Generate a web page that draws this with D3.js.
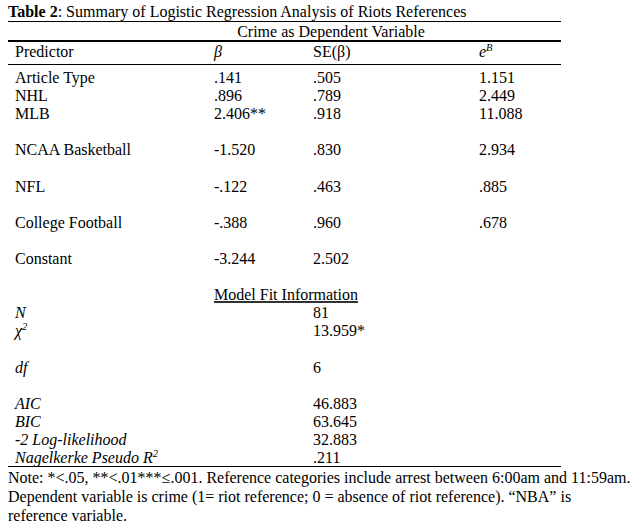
<!DOCTYPE html>
<html>
<head>
<meta charset="utf-8">
<script src="https://cdn.jsdelivr.net/npm/d3@7"></script>
<style>
  html, body { margin: 0; padding: 0; background: #fff; }
  svg text { font-family: "Liberation Serif", "Times New Roman", serif; font-size: 16px; fill: #000; }
</style>
</head>
<body>
<div id="table-container"></div>
<script>
const predictors = ["Article Type", "NHL", "MLB", "NCAA Basketball", "NFL", "College Football", "Constant"]
const betas = [".141", ".896", "2.406**", "-1.520", "-.122", "-.388", "-3.244"]
const ses = [".505", ".789", ".918", ".830", ".463", ".960", "2.502"]
const expBs = ["1.151", "2.449", "11.088", "2.934", ".885", ".678", ""]

const fitLabels = ["N", "χ2", "df", "AIC", "BIC", "-2 Log-likelihood", "Nagelkerke Pseudo R2"]
const fitValues = ["81", "13.959*", "6", "46.883", "63.645", "32.883", ".211"]

const columnHeaders = ["Predictor", "β", "SE(β)", "eB"]
const noteLines = [
  "Note: *<.05, **<.01***≤.001. Reference categories include arrest between 6:00am and 11:59am.",
  "Dependent variable is crime (1= riot reference; 0 = absence of riot reference). \u201cNBA\u201d is",
  "reference variable."
]

const width = 644
const height = 532

const svg = d3.select("#table-container")
    .append("svg")
    .attr("width", width)
    .attr("height", height)

// columns: predictor, beta, se, exp(b)
const x = d3.scaleOrdinal()
    .domain(["label", "beta", "se", "exp"])
    .range([15, 214, 313, 479])

// one body line is ~18px; blank lines sit between the lower predictors
const line = d3.scaleLinear().domain([0, 1]).range([83, 101.1])

const predictorLine = i => i < 3 ? i : 2 + (i - 2) * 2
const fitLine = [13, 14, 16, 18, 19, 20, 21]

const rule = (y, w) => svg.append("line")
    .attr("x1", 8).attr("x2", 561)
    .attr("y1", y).attr("y2", y)
    .attr("stroke", "#000")
    .attr("stroke-width", w)

// title
const title = svg.append("text").attr("x", 8).attr("y", 17)
title.append("tspan").attr("font-weight", "bold").text("Table 2")
title.append("tspan").text(": Summary of Logistic Regression Analysis of Riots References")
rule(21.5, 1)

svg.append("text")
    .attr("x", 331).attr("y", 37)
    .attr("text-anchor", "middle")
    .text("Crime as Dependent Variable")
rule(41, 2)

// header row
const headerKeys = ["label", "beta", "se", "exp"]
columnHeaders.forEach((h, i) => {
  const t = svg.append("text").attr("x", x(headerKeys[i])).attr("y", 57)
  if (h === "β") {
    t.attr("font-style", "italic").text("β")
  } else if (h === "eB") {
    t.append("tspan").attr("font-style", "italic").text("e")
    t.append("tspan").attr("font-style", "italic").attr("font-size", "10.5px").attr("dy", -6).text("B")
  } else {
    t.text(h)
  }
})
rule(64.5, 1)

// predictor rows
const body = svg.append("g")
predictors.forEach((p, i) => {
  const y = line(predictorLine(i))
  const cells = [["label", p], ["beta", betas[i]], ["se", ses[i]], ["exp", expBs[i]]]
  cells.forEach(([k, v]) => {
    body.append("text").attr("x", x(k)).attr("y", y).text(v)
  })
})

// model fit block
svg.append("text")
    .attr("x", x("beta")).attr("y", line(12))
    .attr("text-decoration", "underline")
    .text("Model Fit Information")

fitLabels.forEach((lab, i) => {
  const y = line(fitLine[i])
  const t = svg.append("text").attr("x", x("label")).attr("y", y).attr("font-style", "italic")
  const sup = lab.match(/^(.*)2$/)
  if (sup) {
    t.append("tspan").text(sup[1])
    t.append("tspan").attr("font-size", "10.5px").attr("dy", -6).text("2")
  } else {
    t.text(lab)
  }
  svg.append("text").attr("x", x("se")).attr("y", y).text(fitValues[i])
})
rule(466.5, 1)

// notes
noteLines.forEach((n, i) => {
  svg.append("text")
      .attr("x", 8)
      .attr("y", 483 + i * 19)
      .text(n)
})
</script>
</body>
</html>
